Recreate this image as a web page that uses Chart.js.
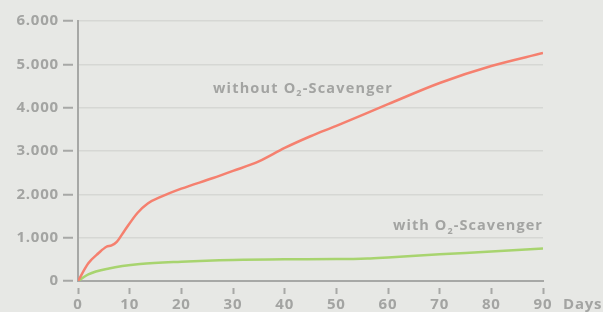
<!DOCTYPE html>
<html>
<head>
<meta charset="utf-8">
<script src="https://cdn.jsdelivr.net/npm/chart.js@4"></script>
<style>
  html, body { margin: 0; padding: 0; background: #e7e8e5; }
  #wrap { width: 603px; height: 312px; position: relative; }
</style>
</head>
<body>
<div id="wrap"><canvas id="chart"></canvas></div>
<script>
// days / values
const withoutDays = [0, 2, 4, 5.5, 6.5, 7.5, 9, 11.5, 13.5, 16, 20, 26, 30, 35, 40, 45, 50, 60, 70, 80, 90]
const withoutValues = [0, 410, 645, 790, 820, 905, 1160, 1570, 1790, 1940, 2130, 2370, 2540, 2760, 3070, 3340, 3580, 4080, 4570, 4960, 5260]

const withDays = [0, 2, 6, 12, 20, 30, 40, 50, 56, 60, 70, 80, 90]
const withValues = [0, 155, 290, 390, 445, 485, 500, 505, 520, 545, 615, 680, 750]

const xTicks = [0, 10, 20, 30, 40, 50, 60, 70, 80, 90]
const yTicks = [0, 1000, 2000, 3000, 4000, 5000, 6000]

const textGray = '#a3a4a2'
const axisGray = '#a7a8a6'
const gridGray = '#d6d7d4'
const FONT = '"Open Sans", Lato, sans-serif'

const toPoints = (xs, ys) => xs.map((x, i) => ({ x, y: ys[i] }))

// labels on the chart with a subscript 2, stretched to a given width
function drawLabel(ctx, parts, x, y, width, align) {
  ctx.save()
  ctx.fillStyle = textGray
  ctx.textBaseline = 'middle'
  ctx.textAlign = 'left'
  const big = '700 14.5px ' + FONT
  const small = '700 9px ' + FONT
  ctx.letterSpacing = '0px'
  let w = 0, n = 0
  parts.forEach(p => { ctx.font = p.sub ? small : big; w += ctx.measureText(p.t).width; n += p.t.length })
  const sp = Math.max(0, (width - w) / n)
  ctx.letterSpacing = sp + 'px'
  let cx = align === 'right' ? x - width : x
  parts.forEach(p => {
    ctx.font = p.sub ? small : big
    ctx.fillText(p.t, cx, p.sub ? y + 5 : y)
    cx += ctx.measureText(p.t).width
  })
  ctx.restore()
}

const labelsPlugin = {
  id: 'labels',
  beforeDraw(chart) {
    chart.ctx.letterSpacing = '0.8px'
  },
  afterDraw(chart) {
    const ctx = chart.ctx
    const xs = chart.scales.x
    const ys = chart.scales.y
    drawLabel(ctx, [{ t: 'without O' }, { t: '2', sub: true }, { t: '-Scavenger' }], 213, ys.getPixelForValue(4440), 180, 'left')
    drawLabel(ctx, [{ t: 'with O' }, { t: '2', sub: true }, { t: '-Scavenger' }], xs.getPixelForValue(90), ys.getPixelForValue(1270), 150, 'right')
    ctx.save()
    ctx.letterSpacing = '0.8px'
    ctx.font = '700 15px ' + FONT
    ctx.fillStyle = textGray
    ctx.textBaseline = 'middle'
    ctx.textAlign = 'left'
    ctx.fillText('Days', 563, 305)
    ctx.restore()
  }
}

new Chart(document.getElementById('chart'), {
  type: 'line',
  data: {
    datasets: [
      {
        label: 'without O2-Scavenger',
        data: toPoints(withoutDays, withoutValues),
        borderColor: '#f5806f',
        borderWidth: 2.5,
        pointRadius: 0,
        cubicInterpolationMode: 'monotone'
      },
      {
        label: 'with O2-Scavenger',
        data: toPoints(withDays, withValues),
        borderColor: '#a8d46f',
        borderWidth: 2.5,
        pointRadius: 0,
        cubicInterpolationMode: 'monotone'
      }
    ]
  },
  options: {
    responsive: true,
    maintainAspectRatio: false,
    animation: false,
    layout: { padding: { top: 21, right: 60, left: 0, bottom: 0 } },
    plugins: {
      legend: { display: false },
      tooltip: { enabled: false }
    },
    scales: {
      x: {
        type: 'linear',
        min: 0,
        max: 90,
        afterBuildTicks: s => { s.ticks = xTicks.map(v => ({ value: v })) },
        afterFit: s => { s.height = 31 },
        border: { color: axisGray, width: 2 },
        grid: {
          drawOnChartArea: false,
          color: axisGray,
          tickLength: 13,
          tickWidth: 2,
          tickBorderDash: [0, 6, 7, 100]
        },
        ticks: {
          color: textGray,
          padding: 2,
          font: { family: FONT, size: 15, weight: '700' },
          maxRotation: 0
        }
      },
      y: {
        min: 0,
        max: 6000,
        afterBuildTicks: s => { s.ticks = yTicks.map(v => ({ value: v })) },
        afterFit: s => { s.width = 78 },
        border: { color: axisGray, width: 2 },
        grid: {
          color: gridGray,
          lineWidth: 1.5,
          tickColor: axisGray,
          tickLength: 15,
          tickWidth: 2,
          tickBorderDash: [10, 100]
        },
        ticks: {
          color: textGray,
          padding: 4,
          font: { family: FONT, size: 15, weight: '700' },
          callback: v => String(v).replace(/\B(?=(\d{3})+(?!\d))/g, '.')
        }
      }
    }
  },
  plugins: [labelsPlugin]
})
</script>
</body>
</html>
